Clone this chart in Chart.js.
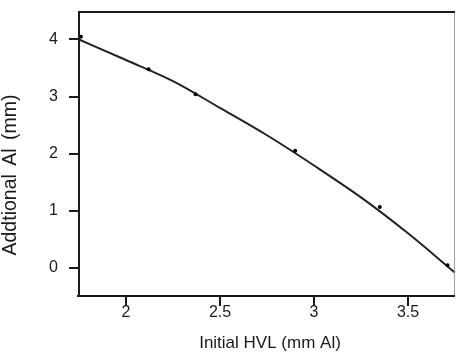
<!DOCTYPE html>
<html>
<head>
<meta charset="utf-8">
<script src="https://cdn.jsdelivr.net/npm/chart.js@4"></script>
<style>
  html, body { margin: 0; padding: 0; background: #fff; }
  #wrap { width: 456px; height: 352px; position: relative; }
</style>
</head>
<body>
<div id="wrap"><canvas id="c"></canvas></div>
<script>
// Measured points: initial HVL (mm Al) vs additional Al (mm)
const measuredHVL = [1.76, 2.12, 2.37, 2.90, 3.35, 3.71];
const measuredAl  = [4.05, 3.48, 3.04, 2.05, 1.06, 0.04];

// Fitted curve through the measurements
const fitHVL = [1.75, 2.0, 2.25, 2.5, 2.75, 3.0, 3.25, 3.5, 3.75];
const fitAl  = [4.00, 3.64, 3.27, 2.80, 2.32, 1.79, 1.23, 0.60, -0.09];

// Labelled (major) ticks
const xMajorTicks = [2, 2.5, 3, 3.5];
const xTickLabels = ['2', '2.5', '3', '3.5'];
const yMajorTicks = [0, 1, 2, 3, 4];
const yTickLabels = ['0', '1', '2', '3', '4'];

const xTitle = 'Initial HVL (mm Al)';
const yTitle = 'Addtional Al (mm)';

const FONT = '"Liberation Sans", Arial, sans-serif';
const INK = '#1a1a1a';

// label for a labelled tick, null for the unlabelled minor ones
function labelFor(majors, labels, v) {
  const i = majors.findIndex(m => Math.abs(m - v) < 1e-6);
  return i >= 0 ? labels[i] : null;
}

const frameAndTicks = {
  id: 'frameAndTicks',
  afterDraw(chart) {
    const { ctx, chartArea: a, scales: { x, y } } = chart;
    ctx.save();
    // right border (thin grey)
    ctx.strokeStyle = '#a0a0a0';
    ctx.lineWidth = 1;
    ctx.beginPath();
    ctx.moveTo(a.right - 0.5, a.top);
    ctx.lineTo(a.right - 0.5, a.bottom);
    ctx.stroke();
    // top, left and bottom axis lines
    ctx.strokeStyle = INK;
    ctx.lineWidth = 2;
    ctx.beginPath();
    ctx.moveTo(a.left, a.top + 1);
    ctx.lineTo(a.right, a.top + 1);
    ctx.moveTo(a.left, a.top);
    ctx.lineTo(a.left, a.bottom + 1);
    ctx.moveTo(a.left - 2, a.bottom);
    ctx.lineTo(a.right, a.bottom);
    ctx.stroke();
    // outward tick marks: long at labelled values, short in between
    ctx.beginPath();
    x.ticks.forEach(t => {
      const px = Math.round(x.getPixelForValue(t.value));
      const major = labelFor(xMajorTicks, xTickLabels, t.value) !== null;
      ctx.moveTo(px, a.bottom);
      ctx.lineTo(px, a.bottom + (major ? 10 : 6));
    });
    y.ticks.forEach(t => {
      const py = Math.round(y.getPixelForValue(t.value));
      const major = labelFor(yMajorTicks, yTickLabels, t.value) !== null;
      ctx.moveTo(a.left, py);
      ctx.lineTo(a.left - (major ? 10 : 5), py);
    });
    ctx.stroke();

    // axis titles
    ctx.fillStyle = INK;
    ctx.textAlign = 'center';
    ctx.textBaseline = 'middle';
    ctx.font = '17px ' + FONT;
    ctx.fillText(xTitle, (a.left + a.right) / 2 + 3, 343);
    ctx.translate(11, 175);
    ctx.rotate(-Math.PI / 2);
    ctx.font = '19.5px ' + FONT;
    if ('wordSpacing' in ctx) ctx.wordSpacing = '3px';
    ctx.fillText(yTitle, 0, 0);
    ctx.restore();
  }
};

new Chart(document.getElementById('c'), {
  type: 'scatter',
  data: {
    datasets: [
      {
        label: 'Fit',
        data: fitHVL.map((v, i) => ({ x: v, y: fitAl[i] })),
        showLine: true,
        borderColor: '#222',
        borderWidth: 2,
        pointRadius: 0,
        cubicInterpolationMode: 'monotone',
        order: 2
      },
      {
        label: 'Measured',
        data: measuredHVL.map((v, i) => ({ x: v, y: measuredAl[i] })),
        backgroundColor: '#000',
        borderColor: '#000',
        pointRadius: 2,
        borderWidth: 0,
        order: 1
      }
    ]
  },
  options: {
    responsive: true,
    maintainAspectRatio: false,
    animation: false,
    clip: false,
    layout: { autoPadding: false, padding: { top: 11, right: 1, left: 0, bottom: 0 } },
    plugins: { legend: { display: false }, tooltip: { enabled: false } },
    scales: {
      x: {
        type: 'linear',
        min: 1.75,
        max: 3.75,
        afterFit: s => { s.height = 56; s.paddingLeft = 0; s.paddingRight = 0; },
        ticks: {
          stepSize: 0.25,
          autoSkip: false,
          maxRotation: 0,
          padding: 7,
          color: INK,
          font: { family: FONT, size: 16 },
          callback: v => labelFor(xMajorTicks, xTickLabels, v)
        },
        grid: { display: false, drawTicks: false },
        border: { display: false }
      },
      y: {
        type: 'linear',
        min: -0.5,
        max: 4.5,
        afterFit: s => { s.width = 79; s.paddingTop = 0; s.paddingBottom = 0; },
        ticks: {
          stepSize: 0.5,
          autoSkip: false,
          padding: 21,
          color: INK,
          font: { family: FONT, size: 16 },
          callback: v => labelFor(yMajorTicks, yTickLabels, v)
        },
        grid: { display: false, drawTicks: false },
        border: { display: false }
      }
    }
  },
  plugins: [frameAndTicks]
});
</script>
</body>
</html>
